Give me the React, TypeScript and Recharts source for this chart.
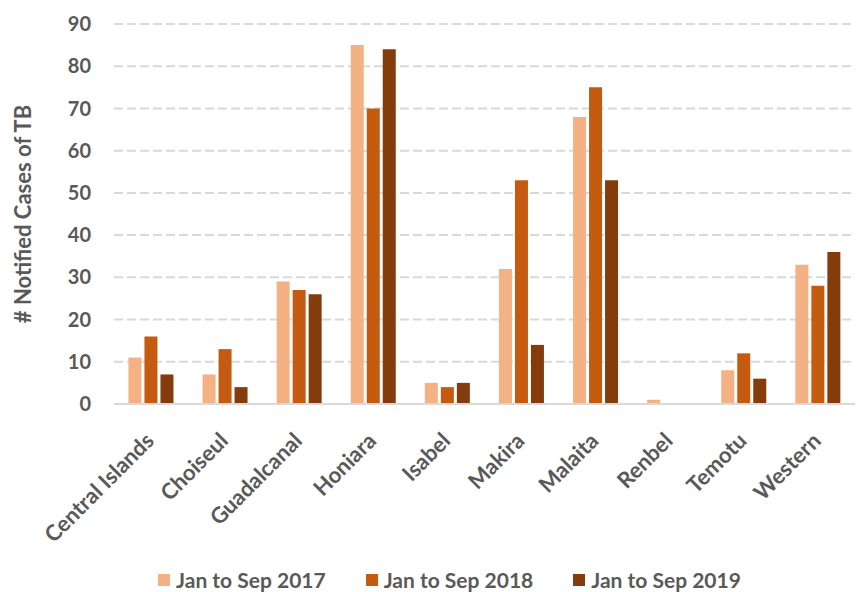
import React from "react";
import { Bar, BarChart, CartesianGrid, Legend, XAxis, YAxis } from "recharts";

const provinces = [
  "Central Islands",
  "Choiseul",
  "Guadalcanal",
  "Honiara",
  "Isabel",
  "Makira",
  "Malaita",
  "Renbel",
  "Temotu",
  "Western",
];
const cases2017 = [11, 7, 29, 85, 5, 32, 68, 1, 8, 33];
const cases2018 = [16, 13, 27, 70, 4, 53, 75, 0, 12, 28];
const cases2019 = [7, 4, 26, 84, 5, 14, 53, 0, 6, 36];
const yTicks = [0, 10, 20, 30, 40, 50, 60, 70, 80, 90];

const seriesNames = ["Jan to Sep 2017", "Jan to Sep 2018", "Jan to Sep 2019"];
const colors = ["#F4B183", "#C55A11", "#843C0C"];

const FONT = "Lato, 'Open Sans', sans-serif";
const TEXT = "#595959";

const data = provinces.map((name, i) => ({
  name,
  a: cases2017[i],
  b: cases2018[i],
  c: cases2019[i],
}));

function SlantTick({ x, y, payload }: any) {
  return (
    <g transform={`translate(${x},${y + 26})`}>
      <text
        transform="rotate(-45)"
        textAnchor="end"
        dy={6}
        fill={TEXT}
        fontFamily={FONT}
        fontWeight={700}
        fontSize={22}
      >
        {payload.value}
      </text>
    </g>
  );
}

function LegendBox() {
  return (
    <div
      style={{
        height: 44,
        display: "flex",
        justifyContent: "center",
        alignItems: "flex-end",
        fontFamily: FONT,
        fontWeight: 700,
        fontSize: 21,
        color: TEXT,
        paddingLeft: 44,
        boxSizing: "border-box",
      }}
    >
      {seriesNames.map((s, i) => (
        <div key={s} style={{ display: "flex", alignItems: "center", margin: "0 20px" }}>
          <span style={{ width: 12, height: 12, background: colors[i], marginRight: 6 }} />
          <span>{s}</span>
        </div>
      ))}
    </div>
  );
}

export default function App() {
  return (
    <div style={{ position: "absolute", left: 0, top: 0, width: 857, height: 592, background: "#fff" }}>
      <BarChart
        width={857}
        height={592}
        data={data}
        margin={{ top: 24, right: 2, bottom: 0, left: 0 }}
        barCategoryGap="19.5%"
        barGap={3}
      >
        <CartesianGrid vertical={false} stroke="#D9D9D9" strokeWidth={2} strokeDasharray="9 4" />
        <XAxis
          dataKey="name"
          interval={0}
          height={144}
          tick={<SlantTick />}
          tickLine={false}
          axisLine={{ stroke: "#D9D9D9", strokeWidth: 2 }}
        />
        <YAxis
          width={114}
          domain={[0, 90]}
          ticks={yTicks}
          interval={0}
          tickLine={false}
          axisLine={false}
          tickMargin={17}
          tick={{ fill: TEXT, fontFamily: FONT, fontWeight: 700, fontSize: 20 }}
          label={{
            value: "# Notified Cases of TB",
            angle: -90,
            position: "insideLeft",
            dx: 18,
            style: { textAnchor: "middle", fill: TEXT, fontFamily: FONT, fontWeight: 700, fontSize: 22 },
          }}
        />
        <Legend verticalAlign="bottom" content={<LegendBox />} />
        <Bar dataKey="a" name={seriesNames[0]} fill={colors[0]} isAnimationActive={false} />
        <Bar dataKey="b" name={seriesNames[1]} fill={colors[1]} isAnimationActive={false} />
        <Bar dataKey="c" name={seriesNames[2]} fill={colors[2]} isAnimationActive={false} />
      </BarChart>
    </div>
  );
}
